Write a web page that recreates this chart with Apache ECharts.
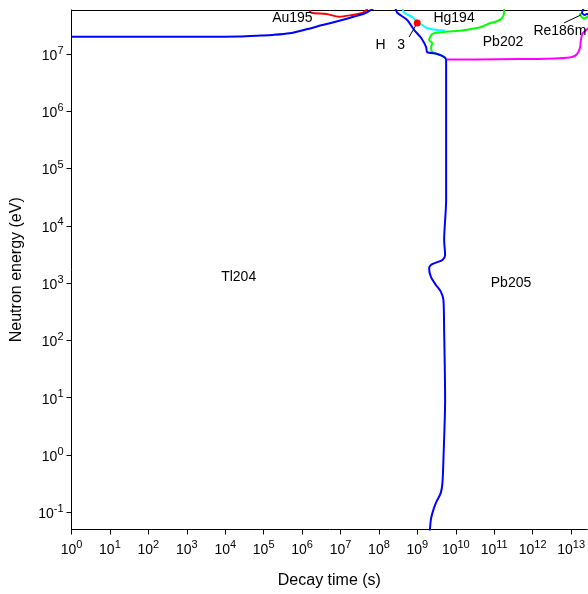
<!DOCTYPE html>
<html><head><meta charset="utf-8">
<script src="https://cdn.jsdelivr.net/npm/echarts@6/dist/echarts.min.js"></script>
<style>html,body{margin:0;padding:0;background:#fff}#c{width:588px;height:594px}</style>
</head><body><div id="c"></div>
<script>
// Tick exponents (labels are 10^n)
const xTickExponents = [0,1,2,3,4,5,6,7,8,9,10,11,12,13];
const yTickExponents = [-1,0,1,2,3,4,5,6,7];

// Boundary lines: [decay time (s), neutron energy (eV)]
const tl204Upper = [[1,2.0e7],[1e2,2.0e7],[2.1e3,2.0e7],[2.3e4,2.02e7],[8.7e4,2.1e7],[1.7e5,2.15e7],[4.7e5,2.3e7],[1.3e6,2.7e7],[3.4e6,3.2e7],[9.3e6,3.8e7],[2.3e7,4.5e7],[4.2e7,5.1e7],[6.3e7,5.9e7],[7.5e7,6.4e7]];
const pb205Left = [[2.4e8,6.8e7],[2.65e8,6.35e7],[2.99e8,5.26e7],[5.43e8,3.92e7],[8.26e8,2.62e7],[1.26e9,1.9e7],[1.69e9,1.32e7],[1.8e9,1.08e7],[3.27e9,1.0e7],[4.97e9,8.87e6],[5.6e9,7.85e6],[5.6e9,1.57e6],[5.6e9,2.83e4],[4.97e9,5.68e3],[5.27e9,3.1e3],[4.49e9,2.54e3],[3.03e9,2.28e3],[2.24e9,2.08e3],[2.02e9,1.82e3],[2.24e9,1.3e3],[3.03e9,9.31e2],[4.07e9,7.11e2],[4.76e9,5.09e2],[4.97e9,1.52e2],[5.27e9,9.2],[4.76e9,0.82],[4.49e9,0.326],[4.07e9,0.218],[3.03e9,0.146],[2.47e9,0.0977],[2.24e9,0.0736],[2.11e9,0.0493],[2.0e9,0.04]];
const pb202Lower = [[5.8e9,8.0e6],[1.3e11,8.1e6],[1.5e12,8.2e6],[4.8e12,8.4e6],[1.05e13,8.9e6],[1.4e13,9.8e6],[1.7e13,1.27e7],[1.8e13,1.75e7],[2.0e13,2.3e7],[2.6e13,2.7e7],[3.3e13,3.1e7]];
const pb202Upper = [[1.81e11,7.2e7],[1.81e11,5.2e7],[1.51e11,4.08e7],[1.12e11,3.69e7],[7.4e10,3.4e7],[4.6e10,2.96e7],[1.38e10,2.57e7],[3.68e9,2.37e7],[2.43e9,2.23e7],[2.02e9,1.75e7],[2.43e9,1.56e7],[2.29e9,1.32e7],[2.43e9,1.08e7],[3.68e9,9.8e6],[5.6e9,8.5e6]];
const hg194Lower = [[4.0e8,6.6e7],[4.54e8,5.26e7],[7.33e8,4.43e7],[1.11e9,3.48e7],[1.8e9,2.84e7],[3.27e9,2.62e7],[5.27e9,2.57e7]];
const au195Lower = [[1.57e6,5.74e7],[1.75e6,5.26e7],[4.28e6,4.99e7],[9.31e6,4.48e7],[2.02e7,4.8e7],[3.47e7,5.13e7],[4.15e7,5.47e7],[4.68e7,5.86e7],[5.0e7,6.2e7]];
const re186mBlue = [[2.1e13,6.2e7],[1.91e13,5.2e7],[2.29e13,4.8e7],[2.57e13,4.99e7],[3.0e13,5.0e7]];
const re186mGreen = [[1.69e13,5.2e7],[1.8e13,4.6e7],[2.15e13,4.17e7],[2.57e13,4.43e7],[3.0e13,4.6e7]];
const h3Point = [[9.9e8,3.48e7]];
const h3Leader = [[6.1e8,1.98e7],[9.9e8,3.48e7]];
const re186mLeader = [[6.5e12,3.48e7],[1.8e13,4.8e7]];

// Region labels
const labelNames = ['Au195','Hg194','H   3','Pb202','Re186m','Tl204','Pb205'];
const labelTimes = [5.6e5,9.0e9,1.97e8,1.69e11,5.1e12,2.24e4,2.73e11];
const labelEnergies = [4.25e7,4.25e7,1.44e7,1.62e7,2.52e7,1.28e3,1.0e3];

const FONT = '"Liberation Sans", Arial, sans-serif';
const xMin = 1, xMax = Math.pow(10, 13.42);
const yMin = Math.pow(10, -1.30), yMax = Math.pow(10, 7.768);

function supLabel(v) {
  const e = Math.round(Math.log10(v));
  return '{b|10}{s|' + e + '}';
}
const rich = {
  b: {fontSize: 14, fontFamily: FONT, color: '#000', lineHeight: 18, verticalAlign: 'bottom'},
  s: {fontSize: 11, fontFamily: FONT, color: '#000', lineHeight: 11, verticalAlign: 'top'}
};

function lineSeries(data, color, width) {
  return {type: 'line', data: data, showSymbol: false, symbol: 'none', smooth: 0.25,
    lineStyle: {color: color, width: width}, silent: true, animation: false, clip: true};
}

const labelData = labelNames.map((n, i) => ({value: [labelTimes[i], labelEnergies[i]], name: n}));

const chart = echarts.init(document.getElementById('c'), null, {renderer: 'canvas'});
chart.setOption({
  animation: false,
  backgroundColor: '#fff',
  grid: {left: 71.5, right: 0, top: 10, bottom: 64.5, containLabel: false},
  xAxis: [{
    type: 'log', logBase: 10, min: xMin, max: xMax,
    name: 'Decay time (s)', nameLocation: 'middle', nameGap: 43,
    nameTextStyle: {fontSize: 16, fontFamily: FONT, color: '#000'},
    axisLine: {show: true, lineStyle: {color: '#000', width: 1}},
    axisTick: {show: true, length: 5, inside: false, lineStyle: {color: '#000'},
      customValues: xTickExponents.map(e => Math.pow(10, e))},
    axisLabel: {show: true, margin: 10, formatter: supLabel, rich: rich,
      customValues: xTickExponents.map(e => Math.pow(10, e))},
    splitLine: {show: false}, minorTick: {show: false}
  }, {
    type: 'value', position: 'top', min: 0, max: 1,
    axisLine: {show: true, onZero: false, lineStyle: {color: '#000', width: 1}},
    axisTick: {show: false}, axisLabel: {show: false}, splitLine: {show: false}
  }],
  yAxis: [{
    type: 'log', logBase: 10, min: yMin, max: yMax,
    name: 'Neutron energy (eV)', nameLocation: 'middle', nameGap: 47,
    nameTextStyle: {fontSize: 16, fontFamily: FONT, color: '#000'},
    axisLine: {show: true, lineStyle: {color: '#000', width: 1}},
    axisTick: {show: true, length: 5, inside: false, lineStyle: {color: '#000'},
      customValues: yTickExponents.map(e => Math.pow(10, e))},
    axisLabel: {show: true, margin: 8, formatter: supLabel, rich: rich,
      customValues: yTickExponents.map(e => Math.pow(10, e))},
    splitLine: {show: false}, minorTick: {show: false}
  }],
  series: [
    lineSeries(pb202Upper, '#00ff00', 2),
    lineSeries(hg194Lower, '#00ffff', 2),
    lineSeries(pb202Lower, '#ff00ff', 2),
    lineSeries(au195Lower, '#ff0000', 2),
    lineSeries(re186mGreen, '#00ff00', 2),
    lineSeries(re186mBlue, '#0000ff', 2),
    lineSeries(tl204Upper, '#0000ff', 2),
    lineSeries(pb205Left, '#0000ff', 2),
    {type: 'line', data: h3Leader, showSymbol: false, symbol: 'none', lineStyle: {color: '#000', width: 1}, silent: true},
    {type: 'line', data: re186mLeader, showSymbol: false, symbol: 'none', lineStyle: {color: '#000', width: 1}, silent: true},
    {type: 'scatter', data: h3Point, symbol: 'circle', symbolSize: 7, z: 10, itemStyle: {color: '#ff0000', opacity: 1}, silent: true},
    {type: 'scatter', data: labelData, symbolSize: 0, silent: true, z: 10,
      itemStyle: {opacity: 1},
      label: {show: true, position: 'inside', formatter: p => p.name, fontSize: 14, fontFamily: FONT, color: '#000', opacity: 1, textBorderWidth: 0}}
  ]
});
</script>
</body></html>
